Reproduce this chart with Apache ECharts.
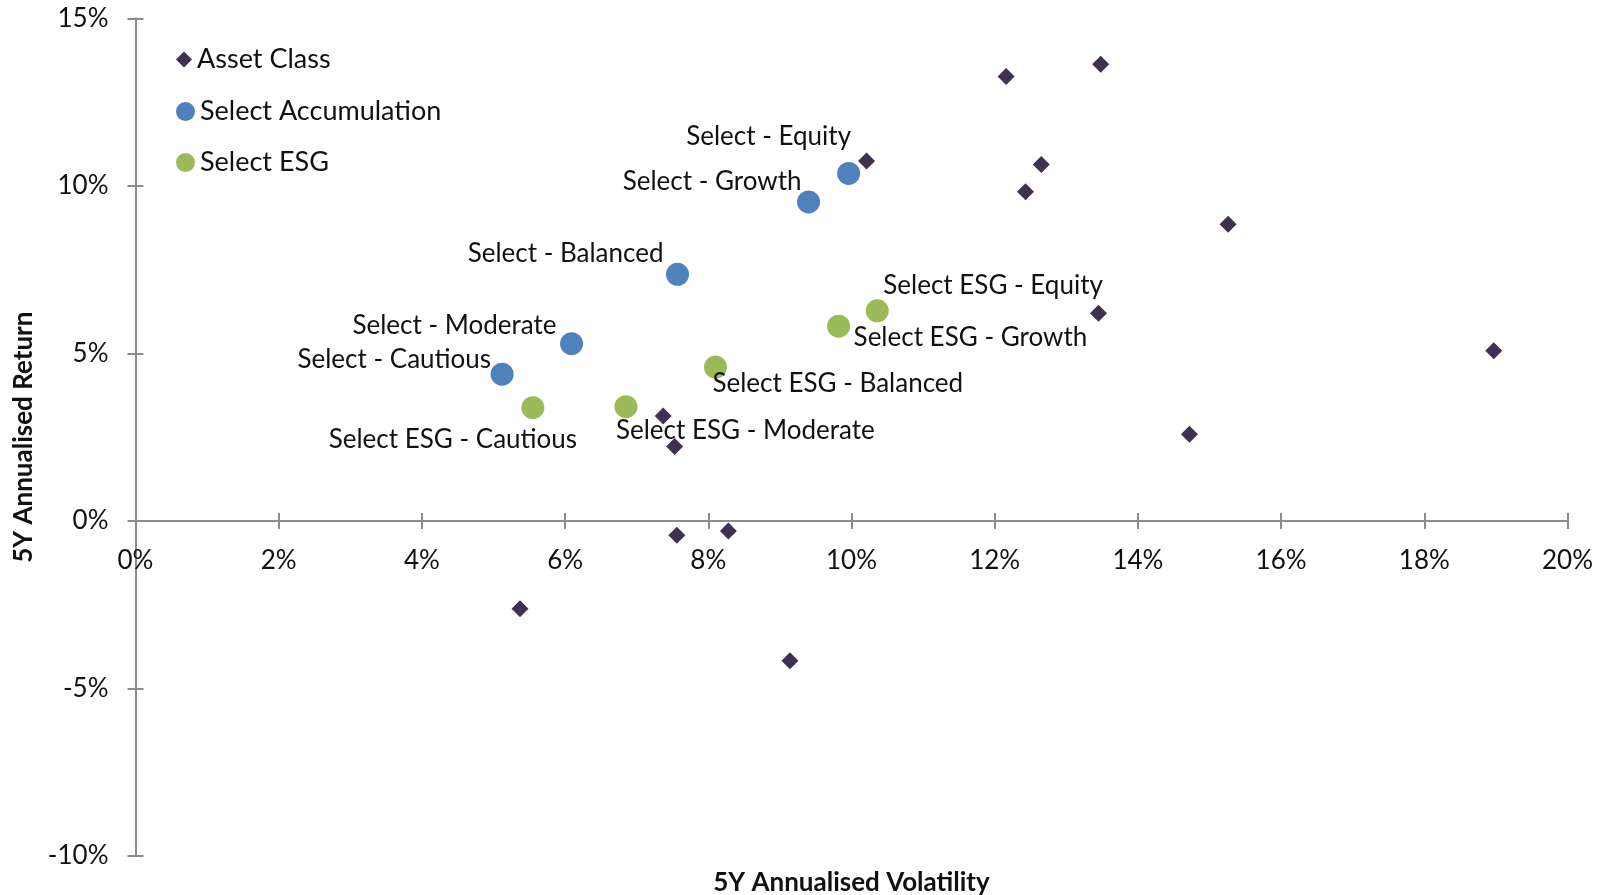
<!DOCTYPE html>
<html>
<head>
<meta charset="utf-8">
<script src="https://cdn.jsdelivr.net/npm/echarts@6/dist/echarts.min.js"></script>
<style>
  html, body { margin: 0; padding: 0; background: #fff; }
  #chart { width: 1598px; height: 895px; }
</style>
</head>
<body>
<div id="chart"></div>
<script>
// values in percent
const assetVol = [12.16, 13.48, 10.21, 12.65, 12.43, 15.26, 13.45, 18.97, 14.72, 7.37, 7.53, 7.56, 8.28, 5.37, 9.14];
const assetRet = [13.26, 13.63, 10.74, 10.64, 9.82, 8.85, 6.20, 5.08, 2.59, 3.13, 2.22, -0.43, -0.30, -2.62, -4.17];

const accNames = ['Select - Equity', 'Select - Growth', 'Select - Balanced', 'Select - Moderate', 'Select - Cautious'];
const accVol = [9.96, 9.40, 7.57, 6.09, 5.12];
const accRet = [10.37, 9.52, 7.36, 5.29, 4.38];

const esgNames = ['Select ESG - Equity', 'Select ESG - Growth', 'Select ESG - Balanced', 'Select ESG - Moderate', 'Select ESG - Cautious'];
const esgVol = [10.36, 9.82, 8.10, 6.85, 5.55];
const esgRet = [6.27, 5.81, 4.59, 3.41, 3.38];

const xRange = [0, 20, 2];
const yRange = [-10, 15, 5];

// where each data label sits relative to its marker: [dx, dy, align]
const labelPlace = {
  'Select - Equity': [-80, -37, 'center'],
  'Select - Growth': [-7, -20, 'right'],
  'Select - Balanced': [-14, -21, 'right'],
  'Select - Moderate': [-15, -18, 'right'],
  'Select - Cautious': [-11, -15, 'right'],
  'Select ESG - Equity': [6, -25, 'left'],
  'Select ESG - Growth': [15, 11, 'left'],
  'Select ESG - Balanced': [-3, 16, 'left'],
  'Select ESG - Moderate': [-10, 24, 'left'],
  'Select ESG - Cautious': [-80, 32, 'center']
};

const FONT = 'Lato';
const axisGrey = '#8c8c8c';

function labelled(names, vols, rets) {
  return names.map((n, i) => {
    const p = labelPlace[n];
    return {
      name: n,
      value: [vols[i], rets[i]],
      label: { show: true, position: 'inside', offset: [p[0], p[1]], align: p[2], verticalAlign: 'middle' }
    };
  });
}

const labelText = { formatter: '{b}', color: '#111', fontFamily: FONT, fontSize: 26 };
const legendText = { fontFamily: FONT, fontSize: 27, color: '#111' };

const chart = echarts.init(document.getElementById('chart'));

const baseX = { type: 'value', min: xRange[0], max: xRange[1], interval: xRange[2], splitLine: { show: false } };
const baseY = { type: 'value', min: yRange[0], max: yRange[1], interval: yRange[2], splitLine: { show: false } };

chart.setOption({
  animation: false,
  grid: { left: 135.5, right: 30.5, top: 18.3, bottom: 39, containLabel: false, outerBoundsMode: 'none' },
  legend: [
    { data: [{ name: 'Asset Class', icon: 'diamond' }], left: 171, top: 41, itemWidth: 16, itemHeight: 16, textStyle: legendText },
    { data: [{ name: 'Select Accumulation', icon: 'circle' }], left: 171, top: 93, itemWidth: 19, itemHeight: 19, textStyle: legendText },
    { data: [{ name: 'Select ESG', icon: 'circle' }], left: 171, top: 144, itemWidth: 19, itemHeight: 19, textStyle: legendText }
  ],
  xAxis: [
    Object.assign({}, baseX, {
      position: 'bottom',
      name: '5Y Annualised Volatility', nameLocation: 'middle', nameGap: 349,
      nameTextStyle: { fontFamily: FONT, fontSize: 26, fontWeight: 'bold', color: '#111' },
      axisLine: { onZero: false, lineStyle: { color: axisGrey, width: 2 } },
      axisTick: { show: true, length: 8, lineStyle: { color: axisGrey, width: 2 } },
      axisLabel: { margin: 27, formatter: '{value}%', fontFamily: FONT, fontSize: 26, color: '#111' }
    }),
    // second copy only adds the upper half of the crossing tick marks
    Object.assign({}, baseX, {
      position: 'bottom',
      axisLine: { show: false, onZero: false },
      axisTick: { show: true, inside: true, length: 8, lineStyle: { color: axisGrey, width: 2 } },
      axisLabel: { show: false }
    })
  ],
  yAxis: [
    Object.assign({}, baseY, {
      position: 'left',
      name: '5Y Annualised Return', nameLocation: 'middle', nameGap: 98, nameRotate: 90,
      nameTextStyle: { fontFamily: FONT, fontSize: 26, fontWeight: 'bold', color: '#111' },
      axisLine: { show: true, lineStyle: { color: axisGrey, width: 2 } },
      axisTick: { show: true, length: 8, lineStyle: { color: axisGrey, width: 2 } },
      axisLabel: { margin: 27, formatter: '{value}%', fontFamily: FONT, fontSize: 26, color: '#111' }
    }),
    Object.assign({}, baseY, {
      position: 'left',
      axisLine: { show: false },
      axisTick: { show: true, inside: true, length: 8, lineStyle: { color: axisGrey, width: 2 } },
      axisLabel: { show: false }
    })
  ],
  series: [
    {
      name: 'Asset Class', type: 'scatter', symbol: 'diamond', symbolSize: 17,
      itemStyle: { color: '#3f3151', opacity: 1 },
      data: assetVol.map((v, i) => [v, assetRet[i]])
    },
    {
      name: 'Select Accumulation', type: 'scatter', symbol: 'circle', symbolSize: 23,
      itemStyle: { color: '#4f81bd', opacity: 1 },
      label: labelText,
      data: labelled(accNames, accVol, accRet)
    },
    {
      name: 'Select ESG', type: 'scatter', symbol: 'circle', symbolSize: 23,
      itemStyle: { color: '#9bbb59', opacity: 1 },
      label: labelText,
      data: labelled(esgNames, esgVol, esgRet)
    }
  ]
});

// lift the x axes from the grid bottom up to the 0% line
const zeroY = chart.convertToPixel({ yAxisIndex: 0 }, 0);
const bottomY = chart.convertToPixel({ yAxisIndex: 0 }, yRange[0]);
chart.setOption({ xAxis: [{ offset: zeroY - bottomY }, { offset: zeroY - bottomY }] });
</script>
</body>
</html>
